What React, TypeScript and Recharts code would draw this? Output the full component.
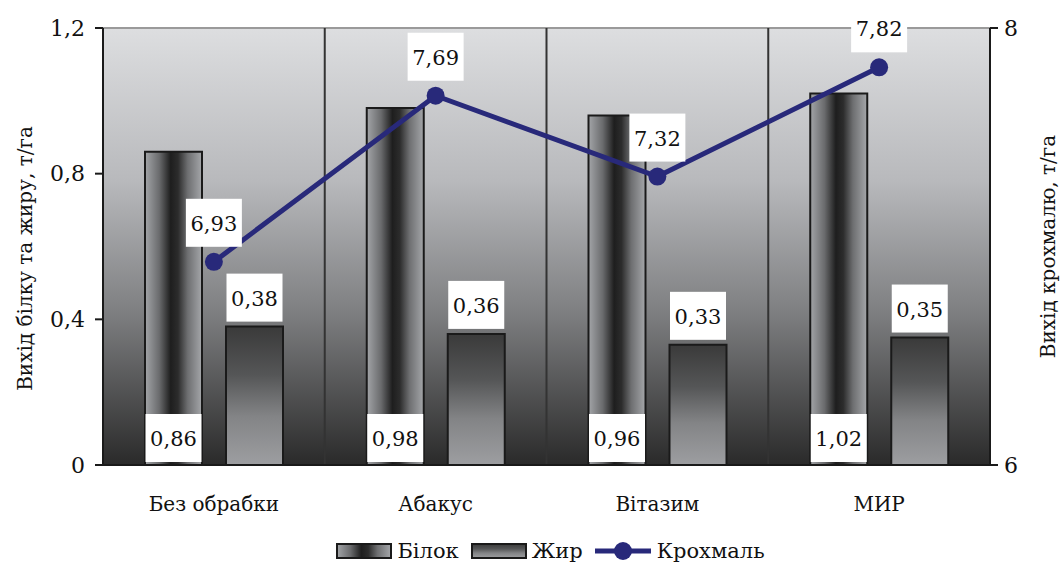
import React from "react";
import {
  Bar,
  CartesianGrid,
  ComposedChart,
  Legend,
  Line,
  XAxis,
  YAxis,
} from "recharts";

const categories = ["Без обрабки", "Абакус", "Вітазим", "МИР"];
const protein = [0.86, 0.98, 0.96, 1.02];
const fat = [0.38, 0.36, 0.33, 0.35];
const starch = [6.93, 7.69, 7.32, 7.82];
const leftTicks = [0, 0.4, 0.8, 1.2];
const rightTicks = [6, 8];

const data = categories.map((name, i) => ({
  name,
  protein: protein[i],
  fat: fat[i],
  starch: starch[i],
}));

const FONT = "'DejaVu Serif', serif";
const LINE = "#28297a";
const fmt = (v: number) => String(v).replace(".", ",");

const BoxText = ({ cx, top, text }: { cx: number; top: number; text: string }) => (
  <g>
    <rect x={cx - 28} y={top} width={56} height={48} fill="#fff" />
    <text
      x={cx}
      y={top + 25}
      textAnchor="middle"
      dominantBaseline="central"
      style={{ fontFamily: FONT, fontSize: 21 }}
      fill="#111"
    >
      {text}
    </text>
  </g>
);

const ProteinLabel = (p: any) => (
  <BoxText cx={p.x + p.width / 2} top={p.y + p.height - 51} text={fmt(p.value)} />
);
const FatLabel = (p: any) => <BoxText cx={p.x + p.width / 2} top={p.y - 53} text={fmt(p.value)} />;
const StarchLabel = (p: any) => <BoxText cx={p.x} top={p.y - 63} text={fmt(p.value)} />;

const Swatch = ({ fill }: { fill: string }) => (
  <svg width={56} height={16} style={{ marginRight: 5 }}>
    <rect x={1} y={1} width={54} height={14} fill={fill} stroke="#1a1a1a" strokeWidth={2} />
  </svg>
);

const LegendContent = () => (
  <div
    style={{
      display: "flex",
      justifyContent: "center",
      alignItems: "center",
      fontFamily: FONT,
      fontSize: 21,
      color: "#111",
      paddingLeft: 14,
      marginTop: 14,
    }}
  >
    <Swatch fill="url(#proteinGrad)" />
    <span style={{ marginRight: 12 }}>Білок</span>
    <Swatch fill="url(#fatGrad)" />
    <span style={{ marginRight: 12 }}>Жир</span>
    <svg width={56} height={20} style={{ marginRight: 6 }}>
      <line x1={0} y1={10} x2={56} y2={10} stroke={LINE} strokeWidth={5} />
      <circle cx={28} cy={10} r={9} fill={LINE} />
    </svg>
    <span>Крохмаль</span>
  </div>
);

const tickStyle = { fontFamily: FONT, fontSize: 22, fill: "#111" };
const titleStyle = { fontFamily: FONT, fontSize: 20, fill: "#111", textAnchor: "middle" as const };

export default function App() {
  return (
    <div style={{ position: "absolute", left: 0, top: 0, width: 1064, height: 565, background: "#fff" }}>
      <ComposedChart
        width={1064}
        height={565}
        data={data}
        margin={{ top: 28, right: 20, left: 43, bottom: 5 }}
        barGap={24}
      >
        <defs>
          <linearGradient id="bgGrad" x1="0" y1="0" x2="0" y2="1">
            <stop offset="0%" stopColor="#dddee0" />
            <stop offset="35%" stopColor="#b8b9bc" />
            <stop offset="65%" stopColor="#7e7f81" />
            <stop offset="100%" stopColor="#2a2a2a" />
          </linearGradient>
          <linearGradient id="proteinGrad" x1="0" y1="0" x2="1" y2="0">
            <stop offset="0%" stopColor="#a3a5a8" />
            <stop offset="25%" stopColor="#6a6b6d" />
            <stop offset="45%" stopColor="#1e1e1e" />
            <stop offset="58%" stopColor="#2c2c2c" />
            <stop offset="75%" stopColor="#6e6f71" />
            <stop offset="100%" stopColor="#a5a7aa" />
          </linearGradient>
          <linearGradient id="fatGrad" x1="0" y1="0" x2="0" y2="1">
            <stop offset="0%" stopColor="#3a3a3a" />
            <stop offset="35%" stopColor="#555657" />
            <stop offset="65%" stopColor="#838486" />
            <stop offset="100%" stopColor="#9d9ea1" />
          </linearGradient>
        </defs>
        <CartesianGrid
          yAxisId="left"
          fill="url(#bgGrad)"
          fillOpacity={1}
          vertical={false}
          stroke="#9a9a9a"
          strokeWidth={2}
          horizontalCoordinatesGenerator={({ offset }: any) => [offset.top]}
        />
        <CartesianGrid
          yAxisId="left"
          horizontal={false}
          stroke="#333"
          strokeWidth={2}
          verticalCoordinatesGenerator={({ offset }: any) =>
            [1, 2, 3].map((i) => offset.left + (offset.width * i) / 4)
          }
        />
        <XAxis
          dataKey="name"
          height={60}
          tickLine={false}
          axisLine={{ stroke: "#1a1a1a", strokeWidth: 2 }}
          tick={{ ...tickStyle, fontSize: 20 }}
          tickMargin={26}
        />
        <YAxis
          yAxisId="left"
          width={60}
          domain={[0, 1.2]}
          ticks={leftTicks}
          tickFormatter={fmt}
          axisLine={{ stroke: "#1a1a1a", strokeWidth: 2 }}
          tickLine={{ stroke: "#1a1a1a", strokeWidth: 2 }}
          tickSize={8}
          tickMargin={10}
          tick={tickStyle}
          label={{
            value: "Вихід білку та жиру, т/га",
            angle: -90,
            position: "insideLeft",
            dx: -23,
            dy: 12,
            style: titleStyle,
          }}
        />
        <YAxis
          yAxisId="right"
          orientation="right"
          width={54}
          domain={[6, 8]}
          ticks={rightTicks}
          axisLine={{ stroke: "#1a1a1a", strokeWidth: 2 }}
          tickLine={{ stroke: "#1a1a1a", strokeWidth: 2 }}
          tickSize={8}
          tickMargin={6}
          tick={tickStyle}
          label={{
            value: "Вихід крохмалю, т/га",
            angle: -90,
            position: "insideRight",
            dx: 9,
            dy: 0,
            style: titleStyle,
          }}
        />
        <Legend verticalAlign="bottom" height={35} content={LegendContent} />
        <Bar
          yAxisId="left"
          dataKey="protein"
          barSize={57}
          fill="url(#proteinGrad)"
          stroke="#1a1a1a"
          strokeWidth={2}
          isAnimationActive={false}
          label={ProteinLabel}
        />
        <Bar
          yAxisId="left"
          dataKey="fat"
          barSize={57}
          fill="url(#fatGrad)"
          stroke="#1a1a1a"
          strokeWidth={2}
          isAnimationActive={false}
          label={FatLabel}
        />
        <Line
          yAxisId="right"
          dataKey="starch"
          stroke={LINE}
          strokeWidth={5}
          dot={{ r: 9, fill: LINE, stroke: LINE, strokeWidth: 0 }}
          activeDot={false}
          isAnimationActive={false}
          label={StarchLabel}
        />
      </ComposedChart>
    </div>
  );
}
